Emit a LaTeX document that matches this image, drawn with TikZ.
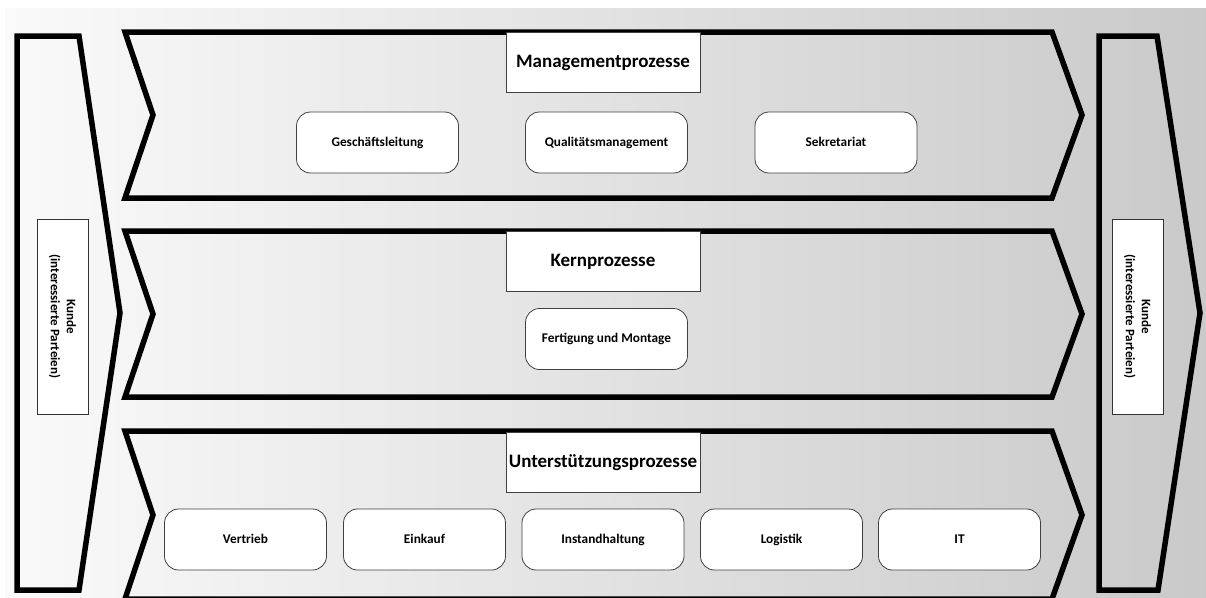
\documentclass[tikz,border=0pt]{standalone}
\usepackage{fontspec}
\setmainfont{Carlito}
\begin{document}
\begin{tikzpicture}[x=1pt,y=-1pt,
  band/.style={draw=black, line width=5.5pt, line join=miter},
  hdr/.style={draw=black!75, line width=0.8pt, fill=white, minimum width=194pt, minimum height=60pt, inner sep=0pt, text height=10pt, text depth=0pt, font=\bfseries\fontsize{19}{22}\selectfont},
  proc/.style={draw=black!75, line width=0.8pt, fill=white, rounded corners=14pt, minimum width=162pt, minimum height=61pt, inner sep=0pt, text height=7.5pt, text depth=0pt, font=\bfseries\fontsize{13.3}{16}\selectfont},
  kunde/.style={draw=black!80, line width=0.8pt, fill=white, minimum width=195pt, minimum height=51pt, inner sep=0pt, rotate=-90, align=center, font=\bfseries\fontsize{13}{16}\selectfont}]
\useasboundingbox (0,0) rectangle (1206,597);
\clip (0,0) rectangle (1206,597);
\fill[white] (0,0) rectangle (1206,597);
\shade[left color=black!2, right color=black!21] (5,8) rectangle (1206,597);
% Kunde arrows
\draw[band] (17,36) -- (79,36) -- (120,313) -- (79,590) -- (17,590) -- cycle;
\draw[band] (1099,36) -- (1157,36) -- (1200,313) -- (1158,590) -- (1099,590) -- cycle;
% process bands
\draw[band] (125,32) -- (1052,32) -- (1082,115) -- (1052,198) -- (125,198) -- (153,115) -- cycle;
\draw[band] (125,231) -- (1052,231) -- (1082,314) -- (1052,397) -- (125,397) -- (153,314) -- cycle;
\draw[band] (125,431) -- (1052,431) -- (1082,515) -- (1052,599) -- (125,599) -- (153,515) -- cycle;
% headers
\node[hdr] (hm) at (603,62) {Managementprozesse};
\node[hdr] (hk) at (603,261.5) {Kernprozesse};
\node[hdr] (hu) at (603,462) {Unterstützungsprozesse};
% management
\node[proc] (gl) at (377.5,142.5) {Geschäftsleitung};
\node[proc] (qm) at (606.5,142.5) {Qualitätsmanagement};
\node[proc] (sk) at (836,142.5) {Sekretariat};
% core
\node[proc] (fm) at (606.5,339) {Fertigung und Montage};
% support
\node[proc] (vt) at (245.5,539.5) {Vertrieb};
\node[proc] (ek) at (424.5,539.5) {Einkauf};
\node[proc] (ih) at (603,539.5) {Instandhaltung};
\node[proc] (lg) at (781.5,539.5) {Logistik};
\node[proc] (it) at (959.5,539.5) {IT};
% customers
\node[kunde] (kl) at (62.5,316.5) {Kunde\\(interessierte Parteien)};
\node[kunde] (kr) at (1137.5,316.5) {Kunde\\(interessierte Parteien)};
\end{tikzpicture}
\end{document}
